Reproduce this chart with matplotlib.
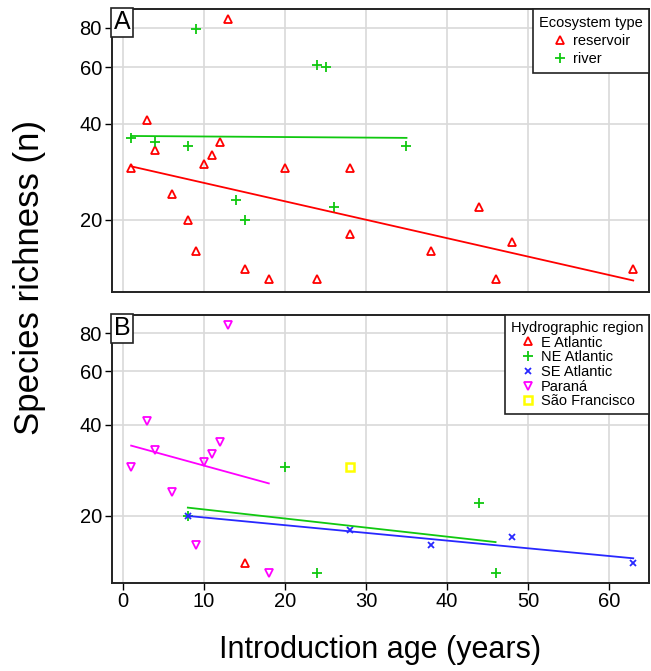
import matplotlib
matplotlib.use("Agg")
import matplotlib.pyplot as plt
import matplotlib.ticker as mticker
import numpy as np

plt.rcParams["font.family"] = ["Liberation Sans", "DejaVu Sans"]

# Panel A: ecosystem type
reservoir_x = [1, 3, 4, 6, 8, 9, 10, 11, 12, 13, 15, 18, 20, 24, 28, 28, 38, 44, 46, 48, 63]
reservoir_y = [29, 41, 33, 24, 20, 16, 30, 32, 35, 85, 14, 13, 29, 13, 29, 18, 16, 22, 13, 17, 14]
river_x = [1, 4, 8, 9, 14, 15, 24, 25, 26, 35]
river_y = [36, 35, 34, 79, 23, 20, 61, 60, 22, 34]

reservoir_fit_x = [1, 63]
reservoir_fit_y = [29.4, 12.9]
river_fit_x = [1, 35]
river_fit_y = [36.6, 36.1]

# Panel B: hydrographic region
e_atl_x = [15]
e_atl_y = [14]
ne_atl_x = [8, 20, 24, 44, 46]
ne_atl_y = [20, 29, 13, 22, 13]
se_atl_x = [8, 28, 38, 48, 63]
se_atl_y = [20, 18, 16, 17, 14]
parana_x = [1, 3, 4, 6, 9, 10, 11, 12, 13, 18]
parana_y = [29, 41, 33, 24, 16, 30, 32, 35, 85, 13]
sf_x = [28]
sf_y = [29]

ne_fit_x = [8, 46]
ne_fit_y = [21.3, 16.4]
se_fit_x = [8, 63]
se_fit_y = [20.0, 14.5]
parana_fit_x = [1, 18]
parana_fit_y = [34.1, 25.6]

y_ticks = [20, 40, 60, 80]
x_ticks = [0, 10, 20, 30, 40, 50, 60]

RED = "#ff0000"
GREEN = "#10c810"
BLUE = "#2828ff"
MAGENTA = "#ff00ff"
YELLOW = "#ffff00"


def style_axis(ax, letter, ylim):
    ax.set_yscale("log")
    ax.set_xlim(-1.4, 65)
    ax.set_ylim(*ylim)
    ax.yaxis.set_major_locator(mticker.FixedLocator(y_ticks))
    ax.yaxis.set_major_formatter(mticker.FixedFormatter([str(t) for t in y_ticks]))
    ax.yaxis.set_minor_locator(mticker.NullLocator())
    ax.xaxis.set_major_locator(mticker.FixedLocator(x_ticks))
    ax.grid(True, color="#d9d9d9", linewidth=1.2, zorder=0)
    ax.set_axisbelow(True)
    ax.tick_params(axis="y", direction="out", length=5, width=1, labelsize=14.5, pad=2)
    ax.tick_params(axis="x", direction="out", length=5, width=1, labelsize=14.5, pad=2)
    for sp in ax.spines.values():
        sp.set_linewidth(1.4)
        sp.set_color("#222222")
    ax.text(0.004, 0.996, letter, transform=ax.transAxes, ha="left", va="top",
            fontsize=18, zorder=10,
            bbox=dict(boxstyle="square,pad=0.1", facecolor="white", edgecolor="#222222", linewidth=1.2))


fig = plt.figure(figsize=(6.51, 6.71), dpi=100)
ax_a = fig.add_axes([0.1716, 0.5653, 0.826, 0.4213])
ax_b = fig.add_axes([0.1716, 0.1316, 0.826, 0.399])

tri_kw = dict(linestyle="None", markerfacecolor="none", markersize=5.5, markeredgewidth=1.3)

# panel A
ax_a.plot(reservoir_x, reservoir_y, marker="^", color=RED, label="reservoir", **tri_kw)
ax_a.plot(river_x, river_y, marker="+", color=GREEN, linestyle="None", markersize=7,
          markeredgewidth=1.3, label="river")
ax_a.plot(reservoir_fit_x, reservoir_fit_y, "-", color=RED, linewidth=1.3)
ax_a.plot(river_fit_x, river_fit_y, "-", color=GREEN, linewidth=1.3)
style_axis(ax_a, "A", (11.9, 91.5))
ax_a.tick_params(axis="x", length=0, labelbottom=False)

leg_a = ax_a.legend(title="Ecosystem type", loc="upper right", borderaxespad=0,
                    fontsize=10.5, title_fontsize=10.5, fancybox=False, framealpha=1,
                    edgecolor="#222222", handlelength=1.0, handletextpad=0.4,
                    labelspacing=0.3, borderpad=0.45)
leg_a.get_frame().set_linewidth(1.2)

# panel B
ax_b.plot(e_atl_x, e_atl_y, marker="^", color=RED, label="E Atlantic", **tri_kw)
ax_b.plot(ne_atl_x, ne_atl_y, marker="+", color=GREEN, linestyle="None", markersize=7,
          markeredgewidth=1.3, label="NE Atlantic")
ax_b.plot(se_atl_x, se_atl_y, marker="x", color=BLUE, linestyle="None", markersize=4.5,
          markeredgewidth=1.3, label="SE Atlantic")
ax_b.plot(parana_x, parana_y, marker="v", color=MAGENTA, label="Paraná", **tri_kw)
ax_b.plot(sf_x, sf_y, marker="s", color=YELLOW, linestyle="None", markersize=5.5,
          markerfacecolor="none", markeredgewidth=1.8, label="São Francisco")
ax_b.plot(parana_fit_x, parana_fit_y, "-", color=MAGENTA, linewidth=1.3)
ax_b.plot(ne_fit_x, ne_fit_y, "-", color=GREEN, linewidth=1.3)
ax_b.plot(se_fit_x, se_fit_y, "-", color=BLUE, linewidth=1.3)
style_axis(ax_b, "B", (12.05, 91.9))

leg_b = ax_b.legend(title="Hydrographic region", loc="upper right", borderaxespad=0,
                    fontsize=10.5, title_fontsize=10.5, fancybox=False, framealpha=1,
                    edgecolor="#222222", handlelength=1.0, handletextpad=0.4,
                    labelspacing=0.05, borderpad=0.4)
leg_b.get_frame().set_linewidth(1.2)

fig.text(0.045, 0.586, "Species richness (n)", rotation=90, ha="center", va="center", fontsize=25)
fig.text(0.584, 0.031, "Introduction age (years)", ha="center", va="center", fontsize=22)

fig.savefig("out.png", dpi=100)
